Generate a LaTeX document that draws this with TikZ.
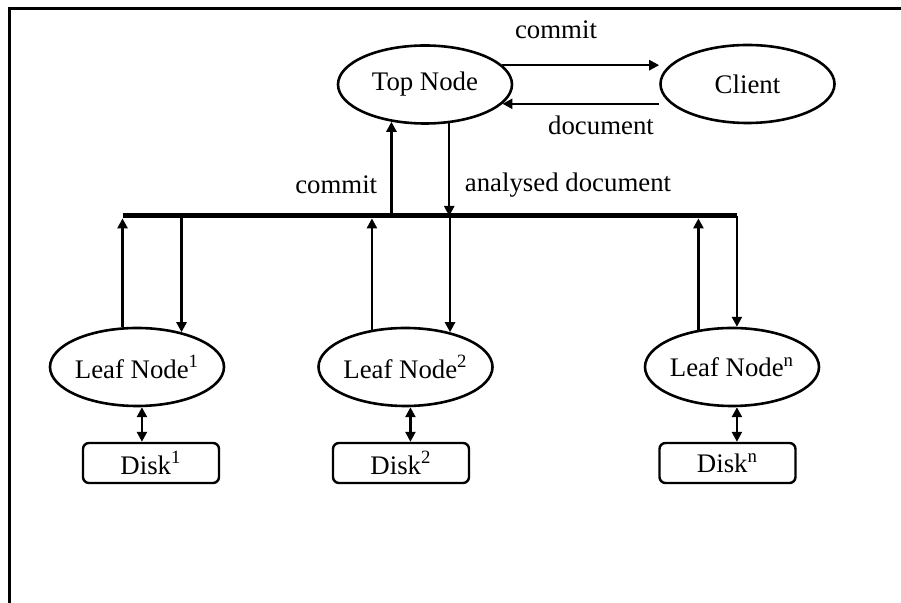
\documentclass[tikz,border=0pt]{standalone}
\usepackage{fontspec}
\setmainfont{Liberation Serif}
\usetikzlibrary{shapes.geometric, arrows.meta, positioning}

\begin{document}
\begin{tikzpicture}[x=0.5pt, y=-0.5pt, line width=1.2pt, font=\fontsize{13.4}{15}\selectfont,
    >={Triangle[length=5pt, width=5pt]},
    proc/.style={ellipse, draw, line width=1.3pt, minimum width=87pt, minimum height=39pt, inner xsep=-3pt, inner ysep=0pt},
    disk/.style={rectangle, draw, rounded corners=3pt, minimum width=68pt, minimum height=20pt, inner sep=0pt}]
        \useasboundingbox (0,0) rectangle (901,603);
        \draw[line width=1.5pt] (9,620) -- (9,9) -- (920,9);

        \node[proc] (top) at (425,84.5) {Top Node};
        \node[proc] (client) at (747.5,84) {Client};
        \node[proc] (l1) at (137,367) {Leaf Node\textsuperscript{1}};
        \node[proc] (l2) at (405.5,367) {Leaf Node\textsuperscript{2}};
        \node[proc] (ln) at (732,367) {Leaf Node\textsuperscript{n}};
        \node[disk] (d1) at (151,463) {Disk\textsuperscript{1}};
        \node[disk] (d2) at (401,463) {Disk\textsuperscript{2}};
        \node[disk] (dn) at (727.5,463) {Disk\textsuperscript{n}};

        \coordinate (busL) at (l1.110 |- 0,216);
        \coordinate (busR) at (ln.83 |- busL);
        \draw[line width=2.5pt] (busL) -- (busR);

        \node (commitA) at (556,30) {commit};
        \node (docA) at (601,125) {document};
        \node[anchor=east] (commitB) at (385,185) {commit};
        \node (analysed) at (568,185) {analysed document};

        \draw[->] (top.14) -- (top.14 -| client.west);
        \draw[->] (client.west |- top.-14) -- (top.-14);
        \draw[->] (top.-132 |- busL) -- (top.-132);
        \draw[->] (top.-58) -- (top.-58 |- busL);

        \draw[->, shorten >=1.2pt] (l1.110) -- (busL);
        \draw[->] (l1.38 |- busL) -- (l1.38);
        \draw[->, shorten >=1.2pt] (l2.132) -- (l2.132 |- busL);
        \draw[->] (l2.38 |- busL) -- (l2.38);
        \draw[->, shorten >=1.2pt] (ln.132) -- (ln.132 |- busL);
        \draw[->] (busR) -- (ln.83);

        \draw[<->] (l1.-83) -- (l1.-83 |- d1.north);
        \draw[<->] (l2.-83) -- (l2.-83 |- d2.north);
        \draw[<->] (ln.-83) -- (ln.-83 |- dn.north);
\end{tikzpicture}
\end{document}
